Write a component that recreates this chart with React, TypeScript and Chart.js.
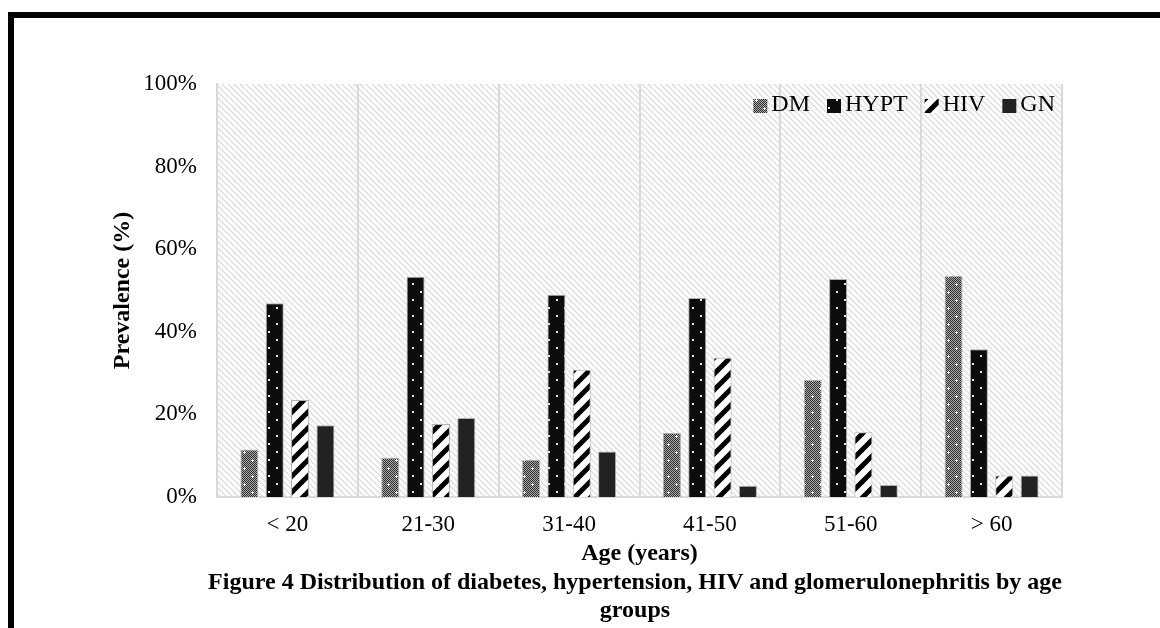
import React, { useEffect, useRef } from "react";
import { Chart, registerables } from "chart.js";

Chart.register(...registerables);

// Age groups and prevalence (%) of each condition
const ageGroups = ["< 20", "21-30", "31-40", "41-50", "51-60", "> 60"];
const dmValues = [11.5, 9.5, 9.0, 15.5, 28.3, 53.6];
const hyptValues = [46.9, 53.3, 49.0, 48.2, 52.8, 35.8];
const hivValues = [23.5, 17.7, 30.8, 33.7, 15.7, 5.2];
const gnValues = [17.4, 19.1, 11.0, 2.7, 2.9, 5.2];
const seriesNames = ["DM", "HYPT", "HIV", "GN"];

const FONT = "'Liberation Serif', 'Times New Roman', serif";

function makeTile(size: number, draw: (c: CanvasRenderingContext2D) => void): CanvasPattern | string {
  const cv = document.createElement("canvas");
  cv.width = size;
  cv.height = size;
  const c = cv.getContext("2d");
  if (!c) return "#444";
  draw(c);
  const p = c.createPattern(cv, "repeat");
  return p || "#444";
}

// grey checker texture with white crosses
function dmPattern() {
  return makeTile(16, (c) => {
    for (let y = 0; y < 16; y++) {
      for (let x = 0; x < 16; x++) {
        c.fillStyle = (x + y) % 2 === 0 ? "#2e2e2e" : "#ababab";
        c.fillRect(x, y, 1, 1);
      }
    }
    c.fillStyle = "#ffffff";
    const cross = (cx: number, cy: number) => {
      c.fillRect(cx - 1, cy, 3, 1);
      c.fillRect(cx, cy - 1, 1, 3);
    };
    cross(4, 4);
    cross(12, 12);
  });
}

// black with small white dots
function hyptPattern() {
  return makeTile(16, (c) => {
    c.fillStyle = "#0d0d0d";
    c.fillRect(0, 0, 16, 16);
    c.fillStyle = "#e8e8e8";
    c.fillRect(4, 3, 2, 2);
    c.fillRect(12, 11, 2, 2);
  });
}

// white with bold black "/" stripes
function hivPattern() {
  const s = 16;
  return makeTile(s, (c) => {
    c.fillStyle = "#ffffff";
    c.fillRect(0, 0, s, s);
    c.strokeStyle = "#000000";
    c.lineWidth = 5;
    for (const o of [-s, 0, s]) {
      c.beginPath();
      c.moveTo(o - 2, s + 2);
      c.lineTo(o + s + 2, -2);
      c.stroke();
    }
  });
}

// light grey "\" hatching for the plot background
function hatchPattern() {
  const s = 6;
  return makeTile(s, (c) => {
    c.fillStyle = "#ffffff";
    c.fillRect(0, 0, s, s);
    c.strokeStyle = "#dedede";
    c.lineWidth = 1.3;
    for (const o of [-s, 0, s]) {
      c.beginPath();
      c.moveTo(o - 1, -1);
      c.lineTo(o + s + 1, s + 1);
      c.stroke();
    }
  });
}

const plotBackground = {
  id: "plotBackground",
  beforeDraw(chart: any) {
    const { ctx, chartArea } = chart;
    ctx.save();
    ctx.fillStyle = hatchPattern();
    ctx.fillRect(chartArea.left, chartArea.top, chartArea.right - chartArea.left, chartArea.bottom - chartArea.top);
    ctx.restore();
  },
};

// legend drawn inside the plot, top right
const innerLegend = {
  id: "innerLegend",
  afterDraw(chart: any) {
    const { ctx, chartArea } = chart;
    const box = 14;
    const gap = 4;
    const spacing = 17;
    ctx.save();
    ctx.font = `24px ${FONT}`;
    ctx.textBaseline = "middle";
    ctx.textAlign = "left";
    const items = chart.data.datasets.map((d: any) => ({
      label: d.label,
      fill: d.backgroundColor,
      w: ctx.measureText(d.label).width,
    }));
    const total = items.reduce((a: number, it: any) => a + box + gap + it.w, 0) + spacing * (items.length - 1);
    let x = chartArea.right - 7 - total;
    const cy = chartArea.top + 21;
    for (const it of items) {
      ctx.fillStyle = it.fill;
      ctx.fillRect(x, cy - box / 2 + 1, box, box);
      x += box + gap;
      ctx.fillStyle = "#000000";
      ctx.fillText(it.label, x, cy);
      x += it.w + spacing;
    }
    ctx.restore();
  },
};

export default function App() {
  const canvasRef = useRef<HTMLCanvasElement | null>(null);

  useEffect(() => {
    const canvas = canvasRef.current;
    if (!canvas) return;
    const fills = [dmPattern(), hyptPattern(), hivPattern(), "#222222"];
    const values = [dmValues, hyptValues, hivValues, gnValues];
    const chart = new Chart(canvas, {
      type: "bar",
      data: {
        labels: ageGroups,
        datasets: seriesNames.map((name, i) => ({
          label: name,
          data: values[i],
          backgroundColor: fills[i] as any,
          borderColor: "#b0b0b0",
          borderWidth: 1,
          categoryPercentage: 0.72,
          barPercentage: 0.71,
        })),
      },
      options: {
        responsive: false,
        animation: false,
        devicePixelRatio: 1,
        layout: { padding: { left: 100, top: 84, right: 98, bottom: 60 } },
        plugins: {
          legend: { display: false },
          tooltip: { enabled: false },
        },
        scales: {
          x: {
            afterFit: (s: any) => {
              s.height = 71;
            },
            grid: {
              display: true,
              offset: true,
              color: "#d9d9d9",
              lineWidth: 2,
              drawTicks: false,
            },
            border: { display: true, color: "#d9d9d9", width: 2 },
            ticks: {
              color: "#000000",
              padding: 14,
              font: { family: FONT, size: 23 },
            },
            title: {
              display: true,
              text: "Age (years)",
              color: "#000000",
              font: { family: FONT, size: 24, weight: "bold" },
              padding: { top: 0, bottom: 0 },
            },
          },
          y: {
            min: 0,
            max: 100,
            afterFit: (s: any) => {
              s.width = 117;
            },
            grid: { display: false, drawTicks: false },
            border: { display: true, color: "#d9d9d9", width: 2 },
            ticks: {
              stepSize: 20,
              color: "#000000",
              padding: 20,
              font: { family: FONT, size: 23 },
              callback: (v: any) => `${v}%`,
            },
            title: {
              display: true,
              text: "Prevalence (%)",
              color: "#000000",
              font: { family: FONT, size: 24, weight: "bold" },
              padding: { top: 8, bottom: 0 },
            },
          },
        },
      },
      plugins: [plotBackground, innerLegend],
    });
    return () => chart.destroy();
  }, []);

  return (
    <div style={{ position: "absolute", left: 0, top: 0, width: 1160, height: 628, overflow: "hidden", background: "#ffffff" }}>
      <div
        style={{
          position: "absolute",
          left: 8,
          top: 12,
          width: 1200,
          height: 700,
          borderLeft: "6px solid #000",
          borderTop: "6px solid #000",
        }}
      />
      <canvas ref={canvasRef} width={1160} height={628} style={{ position: "absolute", left: 0, top: 0, display: "block" }} />
      <div
        style={{
          position: "absolute",
          left: 135,
          top: 567,
          width: 1000,
          textAlign: "center",
          fontFamily: FONT,
          fontWeight: "bold",
          fontSize: 24,
          lineHeight: "28px",
          color: "#000",
        }}
      >
        Figure 4 Distribution of diabetes, hypertension, HIV and glomerulonephritis by age
        <br />
        groups
      </div>
    </div>
  );
}
